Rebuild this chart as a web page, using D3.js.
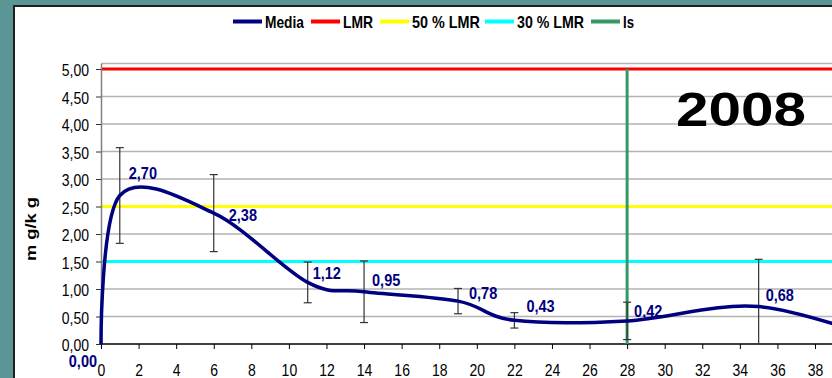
<!DOCTYPE html>
<html>
<head>
<meta charset="utf-8">
<script src="https://cdn.jsdelivr.net/npm/d3@7/dist/d3.min.js"></script>
<style>
  html, body { margin: 0; padding: 0; background: #5b9595; }
  svg { display: block; font-family: "Liberation Sans", Arial, sans-serif; }
</style>
</head>
<body>
<svg id="chart" width="832" height="378"></svg>
<script>
// ---- data ----
const days       = [0, 1, 6, 11, 14, 19, 22, 28, 35, 42];
const media      = [0.00, 2.70, 2.38, 1.12, 0.95, 0.78, 0.43, 0.42, 0.68, 0.02];
const errors     = [0, 0.87, 0.70, 0.37, 0.56, 0.23, 0.14, 0.34, 0.86, 0.10];
const labeled    = [true, true, true, true, true, true, true, true, true, false];
const LMR        = 5.0;
const LMR50      = 2.5;
const LMR30      = 1.5;
const IS_DAY     = 28;
const xTicks     = [0, 2, 4, 6, 8, 10, 12, 14, 16, 18, 20, 22, 24, 26, 28, 30, 32, 34, 36, 38];
const yTicks     = [0, 0.5, 1.0, 1.5, 2.0, 2.5, 3.0, 3.5, 4.0, 4.5, 5.0];
const legendNames = ["Media", "LMR", "50 % LMR", "30 % LMR", "Is"];
const yearLabel  = "2008";
const yTitle     = "m g/k g";

// ---- layout (not data) ----
const labelNudge = [[-4, 23], [9, -17], [15, 8], [5, -3], [8, -6], [11, -2], [12, -8], [7, -4], [7, -6], [7, -6]];
const colors = { media: "#000080", lmr: "#ff0000", l50: "#ffff00", l30: "#00ffff", is: "#339966" };
const SY = 1.15; // vertical stretch of text as in the reference

const svg = d3.select("#chart");
const fmt = d => d3.format(".2f")(d).replace(".", ",");

// frame
svg.append("rect").attr("x", 0).attr("y", 0).attr("width", 832).attr("height", 378).attr("fill", "#5b9595");
svg.append("rect").attr("x", 14).attr("y", 6).attr("width", 900).attr("height", 500)
  .attr("fill", "#ffffff").attr("stroke", "#1c2222").attr("stroke-width", 2);

const x = d3.scaleLinear().domain([0, 40]).range([101, 101 + 40 * 18.79]);
const y = d3.scaleLinear().domain([0, 5.1]).range([344, 344 - 5.1 * 55]);
const xRight = 900;

// gridlines
svg.append("g").selectAll("line").data(yTicks.filter(v => v > 0).concat([5.1])).join("line")
  .attr("x1", x(0)).attr("x2", xRight)
  .attr("y1", d => y(d)).attr("y2", d => y(d))
  .attr("stroke", "#b3b3b3").attr("stroke-width", 1.3);

// reference lines
const refs = [[LMR, colors.lmr], [LMR50, colors.l50], [LMR30, colors.l30]];
svg.append("g").selectAll("line").data(refs).join("line")
  .attr("x1", x(0)).attr("x2", xRight)
  .attr("y1", d => y(d[0])).attr("y2", d => y(d[0]))
  .attr("stroke", d => d[1]).attr("stroke-width", 3);

// axes
const yAxis = svg.append("g").attr("transform", `translate(${x(0)},0)`)
  .call(d3.axisLeft(y).tickValues(yTicks).tickFormat(fmt).tickSize(5).tickPadding(7).tickSizeOuter(0));
yAxis.select(".domain").attr("stroke", "#808080").attr("stroke-width", 1.5);
yAxis.selectAll(".tick line").attr("stroke", "#333");
yAxis.selectAll("text").attr("font-size", 14).attr("fill", "#000").attr("dy", "0.43em")
  .attr("transform", `scale(1,${SY})`)
  .attr("font-family", "'Liberation Sans', Arial, sans-serif");

const xAxis = svg.append("g").attr("transform", `translate(0,${y(0)})`)
  .call(d3.axisBottom(x).tickValues(xTicks).tickFormat(d3.format("d")).tickSize(5).tickPadding(13).tickSizeOuter(0));
xAxis.select(".domain").attr("stroke", "#000").attr("stroke-width", 1.5).attr("d", `M${x(0)},0H${xRight}`);
xAxis.selectAll(".tick line").attr("stroke", "#000");
xAxis.selectAll("text").attr("font-size", 14).attr("fill", "#000")
  .attr("transform", `scale(1,${SY})`)
  .attr("font-family", "'Liberation Sans', Arial, sans-serif");

// Is vertical line
svg.append("line").attr("x1", x(IS_DAY)).attr("x2", x(IS_DAY))
  .attr("y1", y(LMR)).attr("y2", y(0))
  .attr("stroke", colors.is).attr("stroke-width", 3);

// error bars
const pts = days.map((d, i) => ({ d, v: media[i], e: errors[i], lab: labeled[i], i }));
const eb = svg.append("g");
pts.filter(p => p.e > 0).forEach(p => {
  const lo = Math.max(0, p.v - p.e), hi = p.v + p.e;
  const cx = x(p.d);
  eb.append("line").attr("x1", cx).attr("x2", cx).attr("y1", y(lo)).attr("y2", y(hi))
    .attr("stroke", "#333").attr("stroke-width", 1.2);
  eb.append("line").attr("x1", cx - 4).attr("x2", cx + 4).attr("y1", y(hi)).attr("y2", y(hi))
    .attr("stroke", "#333").attr("stroke-width", 1.2);
  if (p.v - p.e > 0) {
    eb.append("line").attr("x1", cx - 4).attr("x2", cx + 4).attr("y1", y(lo)).attr("y2", y(lo))
      .attr("stroke", "#333").attr("stroke-width", 1.2);
  }
});

// media line
const line = d3.line().x(p => x(p.d)).y(p => y(p.v)).curve(d3.curveCardinal.tension(0));
svg.append("path").datum(pts).attr("d", line)
  .attr("fill", "none").attr("stroke", colors.media).attr("stroke-width", 3.5)
  .attr("stroke-linejoin", "round");

// data labels
svg.append("g").selectAll("text").data(pts.filter(p => p.lab)).join("text")
  .attr("transform", p => `translate(${x(p.d) + labelNudge[p.i][0]},${y(p.v) + labelNudge[p.i][1]}) scale(1,${SY})`)
  .attr("text-anchor", p => p.i === 0 ? "end" : "start")
  .attr("font-size", 14.5).attr("font-weight", "bold").attr("fill", colors.media)
  .text(p => fmt(p.v));

// y title
svg.append("text").attr("transform", "translate(36,229) rotate(-90)")
  .attr("text-anchor", "middle").attr("font-size", 14).attr("font-weight", "bold")
  .attr("textLength", 64).attr("lengthAdjust", "spacingAndGlyphs")
  .text(yTitle);

// year label
svg.append("text").attr("x", 676).attr("y", 126)
  .attr("font-size", 48).attr("font-weight", "bold")
  .attr("textLength", 130).attr("lengthAdjust", "spacingAndGlyphs")
  .text(yearLabel);

// legend
const legColors = [colors.media, colors.lmr, colors.l50, colors.l30, colors.is];
const legLineX = [233, 311, 380, 485, 591];
const legTextW = [39, 30, 68, 67, 11];
const lg = svg.append("g");
legendNames.forEach((n, i) => {
  lg.append("line").attr("x1", legLineX[i]).attr("x2", legLineX[i] + 29)
    .attr("y1", 21.5).attr("y2", 21.5).attr("stroke", legColors[i]).attr("stroke-width", 4);
  lg.append("text").attr("transform", `translate(${legLineX[i] + 32},27.5) scale(1,${SY})`)
    .attr("font-size", 15).attr("font-weight", "bold")
    .attr("textLength", legTextW[i]).attr("lengthAdjust", "spacingAndGlyphs")
    .text(n);
});
</script>
</body>
</html>
